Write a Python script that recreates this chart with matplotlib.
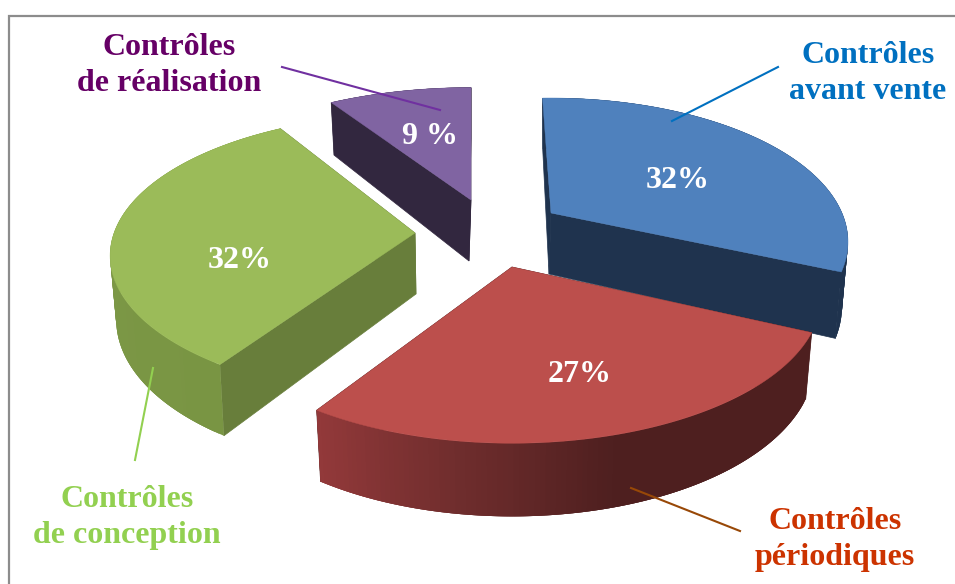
# Import
import numpy as np
import matplotlib
matplotlib.use("Agg")
import matplotlib.pyplot as plt
from matplotlib.collections import PolyCollection
from matplotlib.colors import LinearSegmentedColormap

# Donnees
categories = ["Contrôles\navant vente", "Contrôles\npériodiques", "Contrôles\nde conception", "Contrôles\nde réalisation"]
valeurs = [32, 27, 32, 9]
etiquettes = ["32%", "27%", "32%", "9 %"]

# Couleurs
couleurDessus = ["#4F81BD", "#BC4F4C", "#9BBB59", "#8064A2"]
couleurParoi = ["#1F334E", "#4E1F1F", "#687E3B", "#32273F"]
couleurArc = [["#1F334E", "#1F334E"], ["#4E1F1F", "#4E1F1F", "#4E1F1F", "#6F2D2D", "#93393A"],
              ["#799543", "#809B4A"], ["#32273F", "#32273F"]]
couleurTexte = ["#0070C0", "#CC3300", "#92D050", "#660066"]
couleurTrait = ["#0070C0", "#984807", "#92D050", "#7030A0"]

# Mise en page : sommet de chaque part, rayons, rotation et perspective
sommets = [(551, 213), (512, 267), (415, 233), (471, 200)]
rayonsX = [291, 303, 301, 305]
rayonsY = [138, 141, 138, 135]
rotations = [-2, 0, 1.8, 0]
perspectives = [0.2, 0.2, 0.16, 0.2]
positionsEtiquette = [(678, 181), (580, 375), (240, 260), (430, 136)]
positionsTitre = [(868, 73.5), (835, 539.5), (127, 517.5), (169, 65.5)]
traits = [((778, 67), (672, 121)), ((740, 531), (631, 488)), ((135, 460), (153, 368)), ((282, 67), (440, 110))]

epaisseur = 62
retrecissement = 0.98

def pointDessus(angle, i):
    x = np.sin(angle)
    y = np.cos(angle)
    d = 1 + perspectives[i] * y
    return sommets[i][0] + rayonsX[i] * x / d, sommets[i][1] - rayonsY[i] * y / d

def pointDessous(angle, i):
    sx, sy = pointDessus(angle, i)
    y = np.cos(angle)
    return sommets[i][0] + (sx - sommets[i][0]) * retrecissement, sy + epaisseur * (1 - 0.18 * y)

fig = plt.figure(figsize=(9.55, 5.84), dpi=100)
ax = fig.add_axes([0, 0, 1, 1])
ax.set_xlim(0, 955)
ax.set_ylim(584, 0)
ax.axis("off")

# Cadre
ax.plot([9, 9, 955], [584, 16, 16], color="#8C8C8C", linewidth=1.6, solid_joinstyle="miter", zorder=1)

# Bornes des parts
limites = np.radians(np.cumsum([0] + valeurs) * 3.6)

# On dessine de l'arriere vers l'avant
for i in [3, 2, 0, 1]:
    a0 = limites[i] + np.radians(rotations[i])
    a1 = limites[i + 1] + np.radians(rotations[i])
    angles = np.linspace(a0, a1, 120)
    sx, sy = pointDessus(angles, i)
    bx, by = pointDessous(angles, i)
    apexBas = (sommets[i][0] - 2 * (i == 0 or i == 3) + 1 * (i == 2), sommets[i][1] + 61)

    # Parois droites
    for a in [a0, a1]:
        tx, ty = pointDessus(a, i)
        ux, uy = pointDessous(a, i)
        ax.fill([sommets[i][0], tx, ux, apexBas[0]], [sommets[i][1], ty, uy, apexBas[1]],
                color=couleurParoi[i], linewidth=0.5, zorder=2 + i * 0.01)

    # Paroi courbe avec degrade : les bandes se recouvrent pour eviter les rayures
    cmap = LinearSegmentedColormap.from_list("arc", couleurArc[i])
    quads = []
    for j in range(len(angles) - 1):
        k = min(j + 3, len(angles) - 1)
        quads.append([(sx[j], sy[j]), (sx[k], sy[k]), (bx[k], by[k]), (bx[j], by[j])])
    t = (np.arange(len(quads)) + 0.5) / len(quads)
    ax.add_collection(PolyCollection(quads, facecolors=cmap(t), edgecolors="none",
                                     zorder=2 + i * 0.01))

    # Dessus
    ax.fill(np.r_[sommets[i][0], sx], np.r_[sommets[i][1], sy], color=couleurDessus[i], linewidth=0.3,
            zorder=2.5 + (i == 1) * 0.1)

# Traits de rappel
for i, (p0, p1) in enumerate(traits):
    ax.plot([p0[0], p1[0]], [p0[1], p1[1]], color=couleurTrait[i], linewidth=1.5, zorder=3)

# Textes
police = "Liberation Serif"
for i, (x, y) in enumerate(positionsEtiquette):
    ax.text(x, y, etiquettes[i], color="white", fontsize=23, fontweight="bold", family=police,
            ha="center", va="center", zorder=4)
for i, (x, y) in enumerate(positionsTitre):
    ax.text(x, y, categories[i], color=couleurTexte[i], fontsize=23, fontweight="bold", family=police,
            ha="center", va="center", linespacing=1.35, zorder=4)

fig.savefig("out.png", dpi=100)
